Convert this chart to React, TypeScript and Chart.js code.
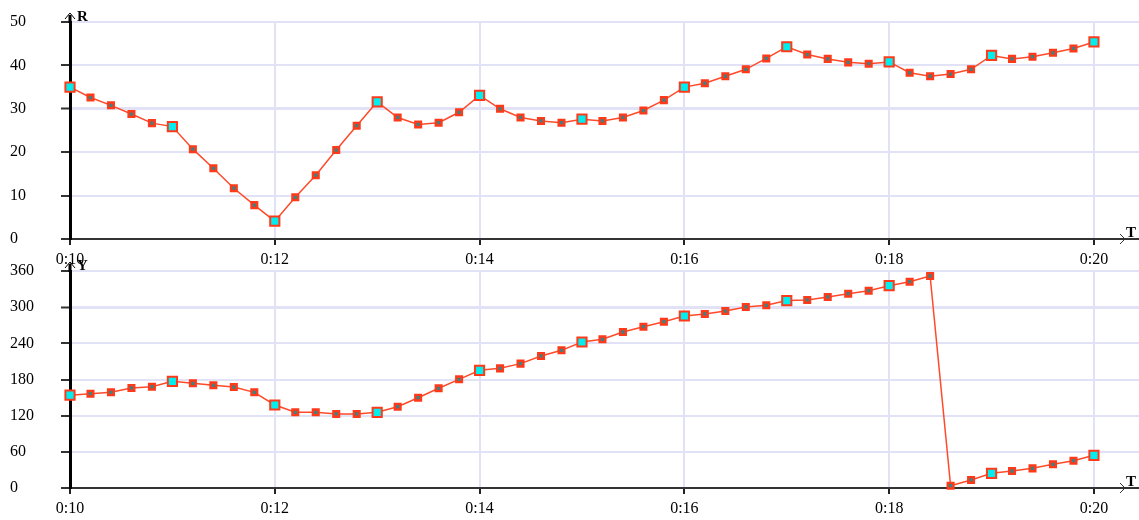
import React, { useEffect, useRef } from "react";
import { Chart, registerables } from "chart.js";

Chart.register(...registerables);

// Sample times in minutes (one sample every 12 s, from 0:10 to 0:20)
const times = [
  10, 10.2, 10.4, 10.6, 10.8, 11, 11.2, 11.4, 11.6, 11.8,
  12, 12.2, 12.4, 12.6, 12.8, 13, 13.2, 13.4, 13.6, 13.8,
  14, 14.2, 14.4, 14.6, 14.8, 15, 15.2, 15.4, 15.6, 15.8,
  16, 16.2, 16.4, 16.6, 16.8, 17, 17.2, 17.4, 17.6, 17.8,
  18, 18.2, 18.4, 18.6, 18.8, 19, 19.2, 19.4, 19.6, 19.8,
  20,
];

// Top panel: R
const rValues = [
  35.0, 32.6, 30.8, 28.8, 26.7, 25.9, 20.7, 16.3, 11.7, 7.8,
  4.1, 9.6, 14.7, 20.5, 26.1, 31.6, 28.0, 26.4, 26.8, 29.2,
  33.1, 30.0, 28.0, 27.2, 26.8, 27.6, 27.2, 28.0, 29.6, 32.0,
  35.0, 35.9, 37.5, 39.1, 41.6, 44.3, 42.5, 41.5, 40.7, 40.4,
  40.8, 38.3, 37.5, 38.0, 39.1, 42.3, 41.5, 42.0, 42.9, 43.9,
  45.4,
];

// Bottom panel: Y
const yValues = [
  154, 156.5, 158.7, 166, 168, 177, 173.7, 170.4, 167.5, 158.7,
  137.7, 125.6, 125.6, 122.8, 122.8, 125.6, 134.9, 149.8, 165.4, 180.3,
  195.2, 198.5, 206.3, 219, 228.4, 242.2, 246.7, 258.8, 267.6, 275.9,
  285.3, 288.7, 293.6, 300.3, 303.1, 311, 312, 316.9, 322.4, 327.3,
  335.6, 342.3, 351.7, 3.8, 13.3, 24.3, 28.2, 32.6, 39.3, 45.3,
  54.2,
];

const xTickValues = [10, 12, 14, 16, 18, 20];
const xTickLabels = ["0:10", "0:12", "0:14", "0:16", "0:18", "0:20"];
const rTicks = [0, 10, 20, 30, 40, 50];
const yTicks = [0, 60, 120, 180, 240, 300, 360];

const FONT = '"Liberation Serif", "Times New Roman", serif';
const GRID = "#e2e2f6";
const LINE = "#ff4a2a";

function axisDecor(label: string) {
  return {
    id: "axisDecor",
    afterDraw(chart: any) {
      const { ctx, chartArea } = chart;
      const { left, top, bottom, right } = chartArea;
      ctx.save();
      ctx.strokeStyle = "#000";
      ctx.lineWidth = 3;
      ctx.beginPath();
      ctx.moveTo(left, top + 1);
      ctx.lineTo(left, top - 7);
      ctx.stroke();
      ctx.lineWidth = 1;
      ctx.beginPath();
      ctx.moveTo(left - 5, top - 3);
      ctx.lineTo(left, top - 9);
      ctx.lineTo(left + 5, top - 3);
      ctx.stroke();
      ctx.fillStyle = "#000";
      ctx.font = `bold 15px ${FONT}`;
      ctx.textBaseline = "alphabetic";
      ctx.textAlign = "left";
      ctx.fillText(label, left + 7, top - 1);
      // x arrow
      ctx.strokeStyle = "#333";
      ctx.beginPath();
      ctx.moveTo(right - 19, bottom - 5);
      ctx.lineTo(right - 14, bottom);
      ctx.lineTo(right - 19, bottom + 5);
      ctx.stroke();
      ctx.fillText("T", right - 13, bottom - 2);
      ctx.restore();
    },
  };
}

function makeConfig(
  values: number[],
  ticksList: number[],
  yMax: number,
  heavy: number,
  axisLabel: string,
  padTop: number,
  xAxisHeight: number
): any {
  return {
    type: "line",
    data: {
      datasets: [
        {
          data: times.map((t, i) => ({ x: t, y: values[i] })),
          borderColor: LINE,
          borderWidth: 1.5,
          tension: 0,
          clip: false,
          pointStyle: "rect",
          pointRadius: (c: any) => (c.dataIndex % 5 === 0 ? 6.5 : 4),
          pointHoverRadius: (c: any) => (c.dataIndex % 5 === 0 ? 6.5 : 4),
          pointBackgroundColor: (c: any) => (c.dataIndex % 5 === 0 ? "#00eeee" : "#3f8080"),
          pointBorderColor: "#ff3a1a",
          pointBorderWidth: (c: any) => (c.dataIndex % 5 === 0 ? 2 : 2.4),
        },
      ],
    },
    options: {
      animation: false,
      responsive: false,
      maintainAspectRatio: false,
      events: [],
      layout: { autoPadding: false, padding: { top: padTop, left: 10, right: 0, bottom: 0 } },
      plugins: { legend: { display: false }, tooltip: { enabled: false } },
      scales: {
        x: {
          type: "linear",
          min: 10,
          max: 20.44,
          afterBuildTicks: (scale: any) => {
            scale.ticks = xTickValues.map((v) => ({ value: v }));
          },
          afterFit: (scale: any) => {
            scale.height = xAxisHeight;
            scale.paddingLeft = 0;
            scale.paddingRight = 0;
          },
          ticks: {
            includeBounds: false,
            autoSkip: false,
            maxRotation: 0,
            padding: 5,
            color: "#000",
            font: { family: FONT, size: 16 },
            callback: (v: number) => {
              const idx = xTickValues.indexOf(v);
              return idx >= 0 ? xTickLabels[idx] : "";
            },
          },
          grid: {
            color: GRID,
            lineWidth: 2,
            tickLength: 6,
            tickColor: "#222",
            tickWidth: 2,
          },
          border: { color: "#333", width: 2 },
        },
        y: {
          type: "linear",
          min: 0,
          max: yMax,
          afterBuildTicks: (scale: any) => {
            scale.ticks = ticksList.map((v) => ({ value: v }));
          },
          afterFit: (scale: any) => {
            scale.width = 60;
          },
          ticks: {
            crossAlign: "far",
            padding: 4,
            color: "#000",
            font: { family: FONT, size: 16 },
          },
          grid: {
            color: GRID,
            lineWidth: (c: any) => (c.tick && c.tick.value === heavy ? 3 : 2),
            tickLength: 9,
            tickColor: "#333",
            tickWidth: 2,
          },
          border: { color: "#000", width: 3 },
        },
      },
    },
    plugins: [axisDecor(axisLabel)],
  };
}

export default function App() {
  const topRef = useRef<HTMLCanvasElement>(null);
  const botRef = useRef<HTMLCanvasElement>(null);

  useEffect(() => {
    const c1 = new Chart(topRef.current as any, makeConfig(rValues, rTicks, 50, 30, "R", 22, 26));
    const c2 = new Chart(botRef.current as any, makeConfig(yValues, yTicks, 360, 300, "Y", 16, 32));
    return () => {
      c1.destroy();
      c2.destroy();
    };
  }, []);

  return (
    <div style={{ position: "absolute", left: 0, top: 0, width: 1139, height: 520, background: "#fff" }}>
      <canvas
        ref={topRef}
        width={1139}
        height={265}
        style={{ position: "absolute", left: 0, top: 0, width: 1139, height: 265 }}
      />
      <canvas
        ref={botRef}
        width={1139}
        height={265}
        style={{ position: "absolute", left: 0, top: 255, width: 1139, height: 265 }}
      />
    </div>
  );
}
